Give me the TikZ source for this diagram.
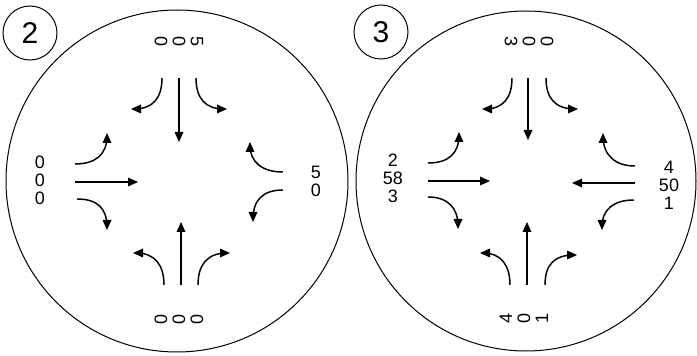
\documentclass[tikz,border=0pt]{standalone}
\usepackage{fontspec}
\setmainfont{Liberation Sans}
\tikzset{every picture/.style={line width=0.75pt}}

\begin{document}
\begin{tikzpicture}[x=0.75pt,y=0.75pt,yscale=-1,xscale=1,
  lane/.style={line width=1.1},
  tip/.style={fill={rgb, 255:red, 0; green, 0; blue, 0 }, fill opacity=1, line width=0.08, draw opacity=0},
  count/.style={inner sep=0.75pt, align=center, font=\fontsize{13.5}{13.5}\selectfont},
  badge/.style={inner sep=0.75pt, font=\fontsize{22.5}{22.5}\selectfont}]
\useasboundingbox (0,0) rectangle (697,356);

%Shape: Circle
\draw (177,181) circle [x radius=171, y radius=171];
%Shape: Circle
\draw (30,33) circle [x radius=27, y radius=27];
%Shape: Circle
\draw (526,181) circle [x radius=170, y radius=170];
%Shape: Circle
\draw (381,32) circle [x radius=27, y radius=27];

% ---- junction 2 ----
%Straight Lines
\draw [lane] (179,78) -- (179,139);
\draw [shift={(179,142)}, rotate = 270] [tip] (10,-4.5) -- (0,0) -- (10,4.5) -- cycle;
%Curve Lines
\draw [lane] (162,78) .. controls (162,98) and (153,109) .. (134,109);
\draw [shift={(131,109)}, rotate = 0] [tip] (10,-4.5) -- (0,0) -- (10,4.5) -- cycle;
%Curve Lines
\draw [lane] (196,78) .. controls (196,98) and (205,109) .. (224,109);
\draw [shift={(227,109)}, rotate = 180] [tip] (10,-4.5) -- (0,0) -- (10,4.5) -- cycle;
%Straight Lines
\draw [lane] (75,182) -- (135,182);
\draw [shift={(138,182)}, rotate = 180] [tip] (10,-4.5) -- (0,0) -- (10,4.5) -- cycle;
%Curve Lines
\draw [lane] (75,164) .. controls (95,164) and (107,155) .. (107,136);
\draw [shift={(107,133)}, rotate = 90] [tip] (10,-4.5) -- (0,0) -- (10,4.5) -- cycle;
%Curve Lines
\draw [lane] (77,199) .. controls (97,199) and (107,208) .. (107,227);
\draw [shift={(107,230)}, rotate = 270] [tip] (10,-4.5) -- (0,0) -- (10,4.5) -- cycle;
%Curve Lines
\draw [lane] (283,172) .. controls (263,172) and (250,163) .. (250,145);
\draw [shift={(250,142)}, rotate = 90] [tip] (10,-4.5) -- (0,0) -- (10,4.5) -- cycle;
%Curve Lines
\draw [lane] (283,190) .. controls (263,190) and (253,200) .. (253,219);
\draw [shift={(253,222)}, rotate = 270] [tip] (10,-4.5) -- (0,0) -- (10,4.5) -- cycle;
%Straight Lines
\draw [lane] (181,285) -- (181,225);
\draw [shift={(181,222)}, rotate = 90] [tip] (10,-4.5) -- (0,0) -- (10,4.5) -- cycle;
%Curve Lines
\draw [lane] (164,285) .. controls (164,265) and (155,253) .. (136,253);
\draw [shift={(133,253)}, rotate = 0] [tip] (10,-4.5) -- (0,0) -- (10,4.5) -- cycle;
%Curve Lines
\draw [lane] (198,285) .. controls (198,265) and (207,253) .. (227,253);
\draw [shift={(230,253)}, rotate = 180] [tip] (10,-4.5) -- (0,0) -- (10,4.5) -- cycle;

% ---- junction 3 ----
%Straight Lines
\draw [lane] (528,78) -- (528,137);
\draw [shift={(528,140)}, rotate = 270] [tip] (10,-4.5) -- (0,0) -- (10,4.5) -- cycle;
%Curve Lines
\draw [lane] (512,78) .. controls (512,98) and (503,109) .. (485,109);
\draw [shift={(482,109)}, rotate = 0] [tip] (10,-4.5) -- (0,0) -- (10,4.5) -- cycle;
%Curve Lines
\draw [lane] (546,78) .. controls (546,98) and (555,109) .. (575,109);
\draw [shift={(578,109)}, rotate = 180] [tip] (10,-4.5) -- (0,0) -- (10,4.5) -- cycle;
%Straight Lines
\draw [lane] (428,181) -- (487,181);
\draw [shift={(490,181)}, rotate = 180] [tip] (10,-4.5) -- (0,0) -- (10,4.5) -- cycle;
%Curve Lines
\draw [lane] (428,163) .. controls (448,163) and (459,154) .. (459,135);
\draw [shift={(459,132)}, rotate = 90] [tip] (10,-4.5) -- (0,0) -- (10,4.5) -- cycle;
%Curve Lines
\draw [lane] (428,197) .. controls (448,197) and (458,208) .. (458,226);
\draw [shift={(458,229)}, rotate = 270] [tip] (10,-4.5) -- (0,0) -- (10,4.5) -- cycle;
%Straight Lines
\draw [lane] (635,183) -- (575,183);
\draw [shift={(572,183)}, rotate = 0] [tip] (10,-4.5) -- (0,0) -- (10,4.5) -- cycle;
%Curve Lines
\draw [lane] (635,166) .. controls (615,166) and (603,155) .. (603,136);
\draw [shift={(603,133)}, rotate = 90] [tip] (10,-4.5) -- (0,0) -- (10,4.5) -- cycle;
%Curve Lines
\draw [lane] (634,200) .. controls (614,200) and (602,209) .. (602,227);
\draw [shift={(602,230)}, rotate = 270] [tip] (10,-4.5) -- (0,0) -- (10,4.5) -- cycle;
%Straight Lines
\draw [lane] (527,285) -- (527,225);
\draw [shift={(527,222)}, rotate = 90] [tip] (10,-4.5) -- (0,0) -- (10,4.5) -- cycle;
%Curve Lines
\draw [lane] (510,285) .. controls (510,265) and (501,253) .. (483,253);
\draw [shift={(480,253)}, rotate = 0] [tip] (10,-4.5) -- (0,0) -- (10,4.5) -- cycle;
%Curve Lines
\draw [lane] (545,285) .. controls (545,265) and (554,255) .. (574,255);
\draw [shift={(577,255)}, rotate = 180] [tip] (10,-4.5) -- (0,0) -- (10,4.5) -- cycle;

% Text Node
\draw (30,33) node (badge2) [badge] {2};
% Text Node
\draw (381,32) node (badge3) [badge] {3};
% Text Node
\draw (40,180) node (west2) [count] {0\\0\\0};
% Text Node
\draw (316,181) node (east2) [count] {5\\0};
% Text Node
\draw (179,42) node (north2) [count, rotate=-90] {5\\0\\0};
% Text Node
\draw (179,319) node (south2) [count, rotate=90] {0\\0\\0};
% Text Node
\draw (393,178) node (west3) [count] {2\\58\\3};
% Text Node
\draw (669,185) node (east3) [count] {4\\50\\1};
% Text Node
\draw (529,42) node (north3) [count, rotate=-90] {0\\0\\3};
% Text Node
\draw (524,318) node (south3) [count, rotate=90] {4\\0\\1};

\end{tikzpicture}
\end{document}
